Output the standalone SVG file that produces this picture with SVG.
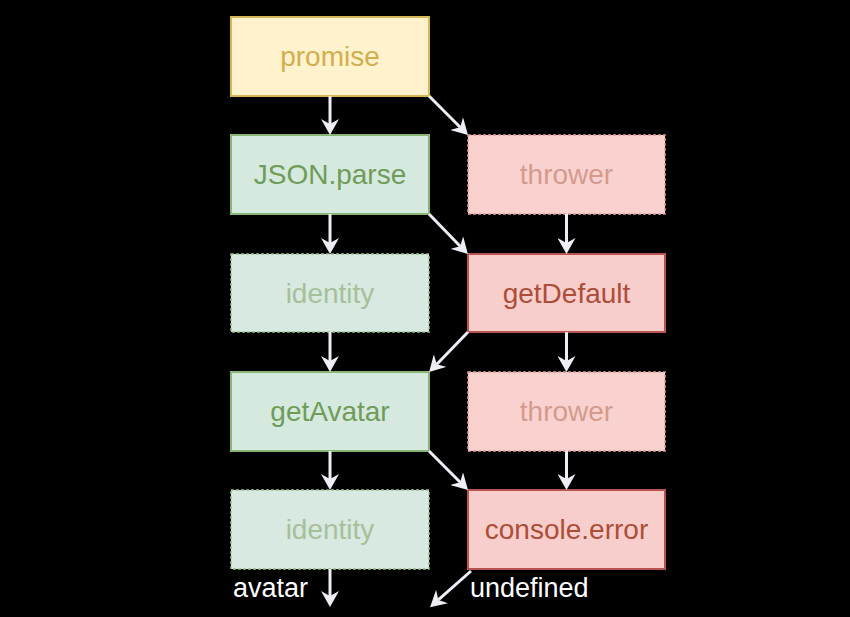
<svg xmlns="http://www.w3.org/2000/svg" width="850" height="617" viewBox="0 0 850 617">
<style>
.t{font-family:"Liberation Sans",Arial,Helvetica,sans-serif;font-size:28px;text-anchor:middle}
.y rect{fill:#fff2cc;stroke:#d6b656;stroke-width:2}
.y text{fill:#d1af4c}
.g rect{fill:#d6e9df;stroke:#88b574;stroke-width:2}
.g text{fill:#6f9c59}
.gf rect{fill:#d8e9e1;stroke:#9dbf8c;stroke-width:1.5;stroke-dasharray:3 2}
.gf text{fill:#a6c099}
.r rect{fill:#f8cecc;stroke:#b85450;stroke-width:2}
.r text{fill:#ad4d37}
.rf rect{fill:#f9d2d0;stroke:#dba09c;stroke-width:1.5;stroke-dasharray:3 2}
.rf text{fill:#d49a8c}
.c line{stroke:#eeeef6;stroke-width:3}
.lbl{fill:#ffffff;font-family:"Liberation Sans",Arial,Helvetica,sans-serif;font-size:27px}
</style>
<defs>
<marker id="ah" markerWidth="16" markerHeight="18" viewBox="0 0 16 18" refX="5" refY="9" orient="auto" markerUnits="userSpaceOnUse">
<path d="M0,0 L16,9 L0,18 L5,9 z" fill="#eeeef6"/>
</marker>
</defs>
<rect x="0" y="0" width="850" height="617" fill="#000"/>
<g id="promise" class="y"><rect x="231" y="17" width="198" height="79"/><text class="t" x="330" y="66">promise</text></g>
<g id="jsonparse" class="g"><rect x="231" y="135" width="198" height="79"/><text class="t" x="330" y="184">JSON.parse</text></g>
<g id="thrower1" class="rf"><rect x="468" y="135" width="197" height="79"/><text class="t" x="566.5" y="184">thrower</text></g>
<g id="identity1" class="gf"><rect x="231" y="254" width="198" height="78"/><text class="t" x="330" y="303">identity</text></g>
<g id="getdefault" class="r"><rect x="468" y="254" width="197" height="78"/><text class="t" x="566.5" y="303">getDefault</text></g>
<g id="getavatar" class="g"><rect x="231" y="372" width="198" height="79"/><text class="t" x="330" y="421">getAvatar</text></g>
<g id="thrower2" class="rf"><rect x="468" y="372" width="197" height="79"/><text class="t" x="566.5" y="421">thrower</text></g>
<g id="identity2" class="gf"><rect x="231" y="490" width="198" height="79"/><text class="t" x="330" y="539">identity</text></g>
<g id="consoleerror" class="r"><rect x="468" y="490" width="197" height="79"/><text class="t" x="566.5" y="539">console.error</text></g>
<g id="connectors" class="c">
<line x1="330" y1="96" x2="330" y2="124" marker-end="url(#ah)"/>
<line x1="429" y1="96" x2="460.2" y2="127.2" marker-end="url(#ah)"/>
<line x1="330" y1="214" x2="330" y2="243" marker-end="url(#ah)"/>
<line x1="429" y1="214" x2="460.2" y2="246.2" marker-end="url(#ah)"/>
<line x1="566.5" y1="214" x2="566.5" y2="243" marker-end="url(#ah)"/>
<line x1="330" y1="332" x2="330" y2="361" marker-end="url(#ah)"/>
<line x1="468" y1="332" x2="436.8" y2="364.2" marker-end="url(#ah)"/>
<line x1="566.5" y1="332" x2="566.5" y2="361" marker-end="url(#ah)"/>
<line x1="330" y1="451" x2="330" y2="479" marker-end="url(#ah)"/>
<line x1="429" y1="451" x2="460.2" y2="482.2" marker-end="url(#ah)"/>
<line x1="566.5" y1="451" x2="566.5" y2="479" marker-end="url(#ah)"/>
<line x1="330" y1="569" x2="330" y2="596" marker-end="url(#ah)"/>
<line x1="471" y1="571" x2="438.3" y2="599.9" marker-end="url(#ah)"/>
</g>
<text class="lbl" x="233" y="597">avatar</text>
<text class="lbl" x="470" y="597">undefined</text>
</svg>
